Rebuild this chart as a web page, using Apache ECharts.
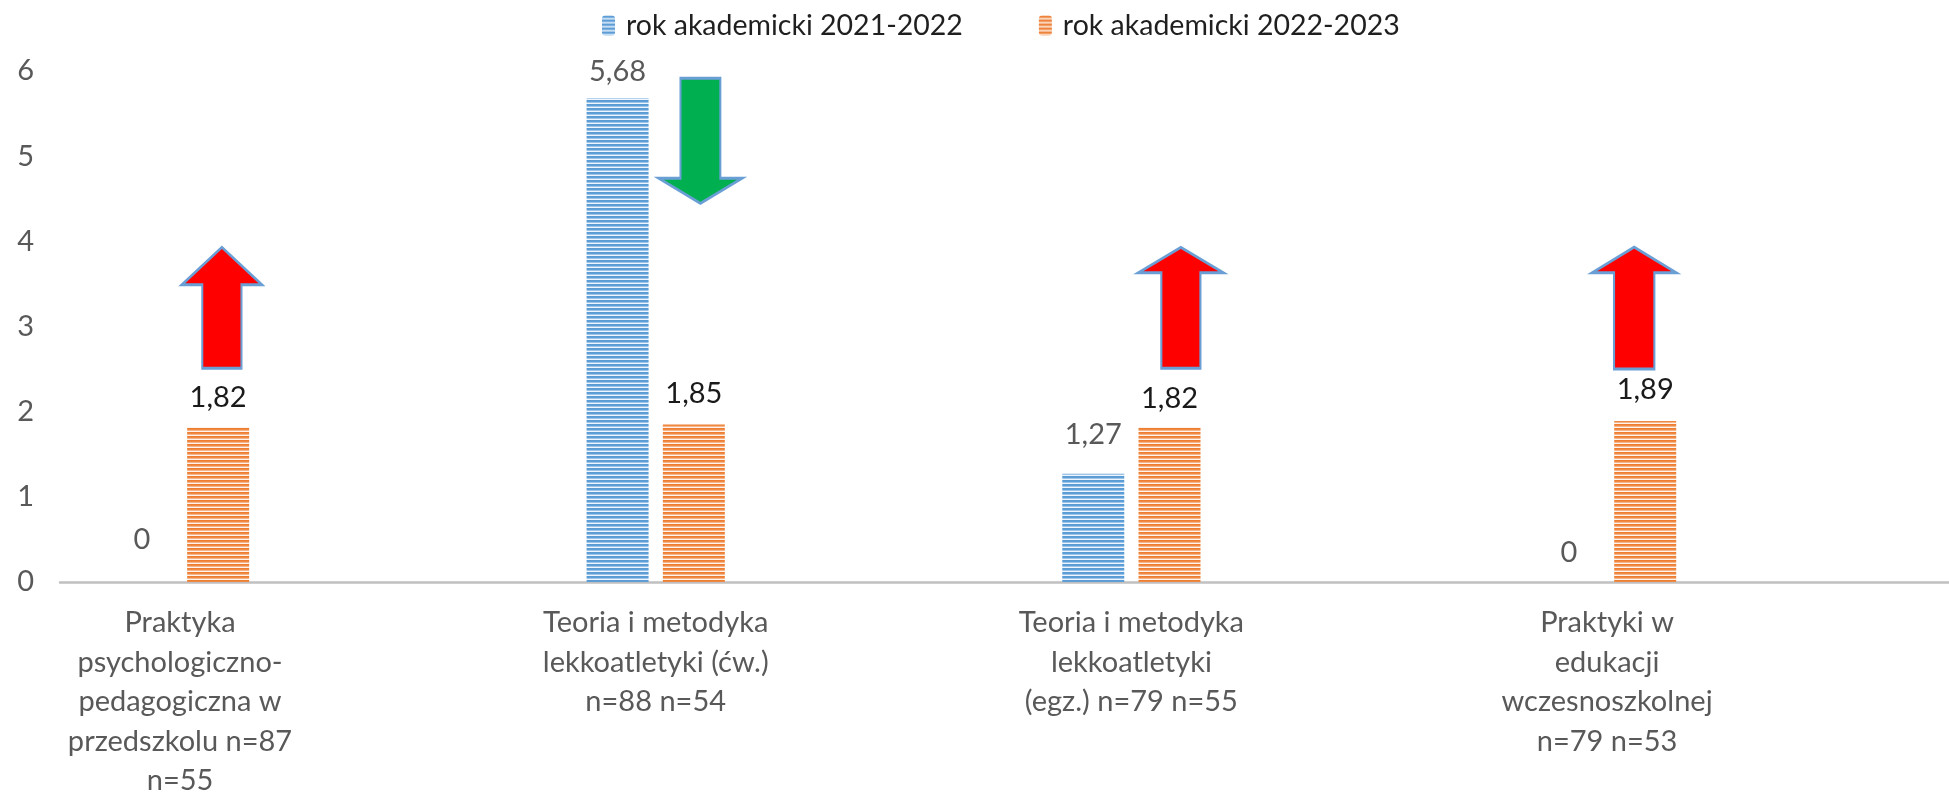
<!DOCTYPE html>
<html>
<head>
<meta charset="utf-8">
<style>
  html, body { margin: 0; padding: 0; background: #fff; }
  #chart { width: 1949px; height: 792px; }
</style>
<script src="https://cdn.jsdelivr.net/npm/echarts@6/dist/echarts.min.js"></script>
</head>
<body>
<div id="chart"></div>
<script>
const categories = [
  "Praktyka\npsychologiczno-\npedagogiczna w\nprzedszkolu n=87\nn=55",
  "Teoria i metodyka\nlekkoatletyki (ćw.)\nn=88 n=54",
  "Teoria i metodyka\nlekkoatletyki\n(egz.) n=79 n=55",
  "Praktyki w\nedukacji\nwczesnoszkolnej\nn=79 n=53"
];
const seriesNames = ["rok akademicki 2021-2022", "rok akademicki 2022-2023"];
const values2122 = [0, 5.68, 1.27, 0];
const values2223 = [1.82, 1.85, 1.82, 1.89];
const yTicks = [0, 1, 2, 3, 4, 5, 6];

// annotation arrows: [x in category units, y centre in axis units]
const upArrows = [[0.088, 3.22], [2.104, 3.22], [3.057, 3.216]];
const downArrows = [[1.094, 5.18]];

// label gaps above bars (Excel labels were nudged by hand)
const labelGap2122 = [27, 11, 24, 14];
const labelGap2223 = [14, 15, 13, 16];

const FONT = "Lato";
const FS = 29;

function stripes(rows) {
  const c = document.createElement("canvas");
  c.width = 8;
  c.height = rows.length;
  const g = c.getContext("2d");
  rows.forEach((col, i) => {
    g.fillStyle = col;
    g.fillRect(0, i, 8, 1);
  });
  return c;
}

const bluePattern = { image: stripes(["#5b9bd5", "#5f9fd8", "#9ec4e8", "#eef5fc"]), repeat: "repeat" };
const orangePattern = { image: stripes(["#ed7d31", "#ef8a45", "#f6b48a", "#fff4ec"]), repeat: "repeat" };

function upPath(head, shaft) {
  const l = 50 - shaft / 2, r = 50 + shaft / 2;
  return `path://M50 0L100 ${head}L${r} ${head}L${r} 100L${l} 100L${l} ${head}L0 ${head}Z`;
}
function downPath(head, shaft) {
  const l = 50 - shaft / 2, r = 50 + shaft / 2, b = 100 - head;
  return `path://M${l} 0L${r} 0L${r} ${b}L100 ${b}L50 100L0 ${b}L${l} ${b}Z`;
}
const upShapes = [
  { symbol: upPath(31, 49), size: [80, 121] },
  { symbol: upPath(21, 46), size: [85, 121] },
  { symbol: upPath(21, 48), size: [84, 122] }
];
const downShapes = [{ symbol: downPath(20, 48), size: [83, 125] }];

function fmt(v) {
  return String(v).replace(".", ",");
}

function barData(values, gaps) {
  return values.map((v, i) => ({
    value: [i, v],
    label: { distance: gaps[i] }
  }));
}

const chart = echarts.init(document.getElementById("chart"), null, { renderer: "canvas" });

chart.setOption({
  animation: false,
  textStyle: { fontFamily: FONT },
  legend: {
    data: seriesNames,
    left: 597,
    top: 6,
    itemWidth: 13,
    itemHeight: 20,
    itemGap: 76,
    textStyle: { fontFamily: FONT, fontSize: 28.5, color: "#1f1f1f", padding: [0, 0, 0, 6] }
  },
  grid: { left: 60, right: 0, top: 71, bottom: 210, containLabel: false, outerBoundsMode: "none" },
  xAxis: {
    type: "value",
    min: -0.2523,
    max: 3.7188,
    axisLine: { show: true, onZero: false, lineStyle: { color: "#c0c0c0", width: 2.5 } },
    axisTick: { show: false },
    splitLine: { show: false },
    axisLabel: {
      customValues: categories.map((_, i) => i),
      formatter: (v) => categories[Math.round(v)] ?? "",
      color: "#595959",
      fontFamily: FONT,
      fontSize: FS,
      lineHeight: 39.5,
      margin: 21
    }
  },
  yAxis: {
    type: "value",
    min: yTicks[0],
    max: yTicks[yTicks.length - 1],
    interval: 1,
    axisLine: { show: false },
    axisTick: { show: false },
    splitLine: { show: false },
    axisLabel: { color: "#595959", fontFamily: FONT, fontSize: FS, margin: 26 }
  },
  series: [
    {
      name: seriesNames[0],
      type: "bar",
      data: barData(values2122, labelGap2122),
      barWidth: 62,
      barGap: "23%",
      itemStyle: { color: bluePattern },
      label: {
        show: true,
        position: "top",
        color: "#595959",
        fontFamily: FONT,
        fontSize: FS,
        lineHeight: 31,
        formatter: (p) => fmt(p.value[1])
      }
    },
    {
      name: seriesNames[1],
      type: "bar",
      data: barData(values2223, labelGap2223),
      barWidth: 62,
      barGap: "23%",
      itemStyle: { color: orangePattern },
      label: {
        show: true,
        position: "top",
        color: "#1a1a1a",
        fontFamily: FONT,
        fontSize: FS,
        lineHeight: 31,
        formatter: (p) => fmt(p.value[1])
      }
    },
    {
      name: "up",
      type: "scatter",
      z: 5,
      silent: true,
      data: upArrows.map((pt, i) => ({
        value: pt,
        symbol: upShapes[i].symbol,
        symbolSize: upShapes[i].size
      })),
      itemStyle: { color: "#ff0000", borderColor: "#6a9fd6", borderWidth: 2.5, opacity: 1 }
    },
    {
      name: "down",
      type: "scatter",
      z: 5,
      silent: true,
      data: downArrows.map((pt, i) => ({
        value: pt,
        symbol: downShapes[i].symbol,
        symbolSize: downShapes[i].size
      })),
      itemStyle: { color: "#00b050", borderColor: "#6a9fd6", borderWidth: 2.5, opacity: 1 }
    }
  ]
});
</script>
</body>
</html>
